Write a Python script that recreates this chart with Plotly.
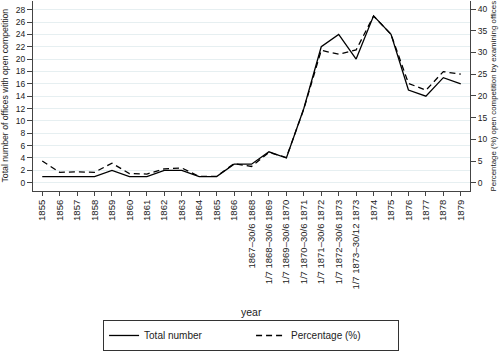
import plotly.graph_objects as go

categories = ["1855", "1856", "1857", "1858", "1859", "1860", "1861", "1862", "1863",
              "1864", "1865", "1866", "1867–30/6 1868", "1/7 1868–30/6 1869",
              "1/7 1869–30/6 1870", "1/7 1870–30/6 1871", "1/7 1871–30/6 1872",
              "1/7 1872–30/6 1873", "1/7 1873–30/12 1873", "1874", "1875", "1876",
              "1877", "1878", "1879"]
total_number = [1, 1, 1, 1, 2, 1, 1, 2, 2, 1, 1, 3, 3, 5, 4, 12, 22, 24, 20, 27, 24, 15, 14, 17, 16]
percentage = [5.0, 2.4, 2.5, 2.4, 4.5, 2.1, 2.0, 3.2, 3.4, 1.45, 1.45, 4.4, 3.75, 7.0, 5.8,
              17.0, 30.5, 29.6, 30.6, 38.4, 34.2, 22.9, 21.3, 25.6, 25.0]
left_ticks = list(range(0, 29, 2))
right_ticks = list(range(0, 41, 5))

FONT = "Liberation Sans, Arial, sans-serif"
AX = "#444444"
TXT = "#222222"

fig = go.Figure()
fig.add_trace(go.Scatter(x=categories, y=total_number, name="Total number", mode="lines",
                         line=dict(color="black", width=1.3), yaxis="y"))
fig.add_trace(go.Scatter(x=categories, y=percentage, name="Percentage (%)", mode="lines",
                         line=dict(color="black", width=1.3, dash="6px,4px"), yaxis="y2"))

fig.update_layout(
    width=500, height=352,
    margin=dict(l=33, r=30, t=1, b=161, autoexpand=False),
    paper_bgcolor="white", plot_bgcolor="white",
    font=dict(family=FONT, color=TXT, size=9),
    showlegend=True,
    legend=dict(orientation="h", x=0.499, xanchor="center", y=-0.842, yanchor="bottom",
                bordercolor="#333333", borderwidth=1, font=dict(size=10, color=TXT),
                entrywidth=102, entrywidthmode="pixels", bgcolor="white"),
    xaxis=dict(type="category", range=[-0.53, 24.53], tickangle=-90, ticks="outside",
               ticklen=4, tickcolor=AX, showline=True, linecolor=AX, linewidth=1,
               showgrid=False, tickfont=dict(size=9.5, color=TXT), automargin=False),
    yaxis=dict(range=[-1.34, 29.4], tickvals=left_ticks, ticks="outside", ticklen=5,
               tickcolor=AX, showline=True, linecolor=AX, linewidth=1, showgrid=True,
               gridcolor="#E6EFF1", gridwidth=1, zeroline=False, automargin=False,
               tickfont=dict(size=8.5, color=TXT)),
    yaxis2=dict(range=[-1.91, 41.87], tickvals=right_ticks, overlaying="y", side="right",
                ticks="outside", ticklen=5, tickcolor=AX, showline=True, linecolor=AX,
                linewidth=1, showgrid=False, zeroline=False, automargin=False,
                tickfont=dict(size=8.5, color=TXT)),
    annotations=[
        dict(text="Total number of offices with open competition", textangle=-90,
             xref="paper", yref="paper", x=0, y=0.5, xshift=-28.5, xanchor="center",
             yanchor="middle", showarrow=False, font=dict(size=8.7, color=TXT)),
        dict(text="Percentage (%) open competition by examining offices", textangle=-90,
             xref="paper", yref="paper", x=1, y=0.5, xshift=22.5, xanchor="center",
             yanchor="middle", showarrow=False, font=dict(size=7.9, color=TXT)),
        dict(text="year", xref="paper", yref="paper", x=0.5, y=-0.635, xanchor="center",
             yanchor="middle", showarrow=False, font=dict(size=10.5, color=TXT)),
    ],
)

fig.write_html("out.html")
